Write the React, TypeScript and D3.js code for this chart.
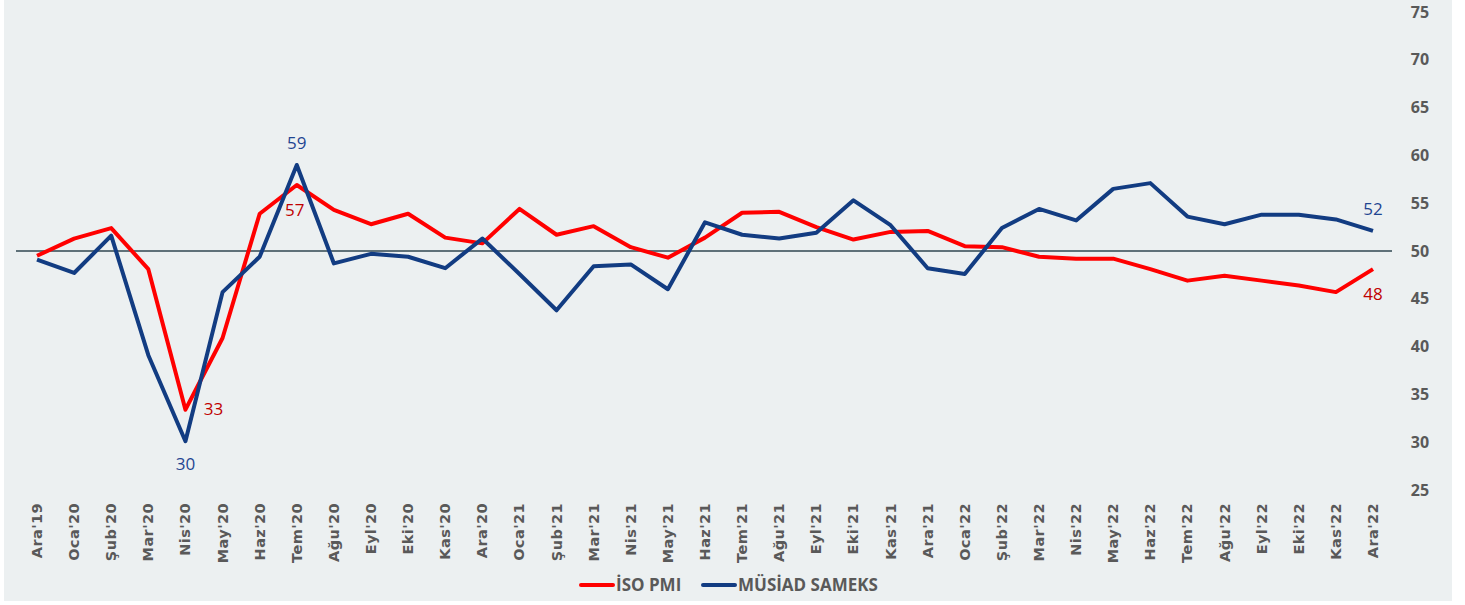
import React from 'react';
import * as d3 from 'd3';

const months = [
  "Ara'19", "Oca'20", "Şub'20", "Mar'20", "Nis'20", "May'20", "Haz'20", "Tem'20", "Ağu'20", "Eyl'20", "Eki'20", "Kas'20",
  "Ara'20", "Oca'21", "Şub'21", "Mar'21", "Nis'21", "May'21", "Haz'21", "Tem'21", "Ağu'21", "Eyl'21", "Eki'21", "Kas'21",
  "Ara'21", "Oca'22", "Şub'22", "Mar'22", "Nis'22", "May'22", "Haz'22", "Tem'22", "Ağu'22", "Eyl'22", "Eki'22", "Kas'22",
  "Ara'22",
];

const isoPmi = [
  49.5, 51.3, 52.4, 48.1, 33.4, 40.9, 53.9, 56.9, 54.3, 52.8, 53.9, 51.4,
  50.8, 54.4, 51.7, 52.6, 50.4, 49.3, 51.4, 54.0, 54.1, 52.5, 51.2, 52.0,
  52.1, 50.5, 50.4, 49.4, 49.2, 49.2, 48.1, 46.9, 47.4, 46.9, 46.4, 45.7,
  48.1,
];

const musiadSameks = [
  49.1, 47.7, 51.6, 39.1, 30.1, 45.7, 49.4, 59.0, 48.7, 49.7, 49.4, 48.2,
  51.3, 47.6, 43.8, 48.4, 48.6, 46.0, 53.0, 51.7, 51.3, 51.9, 55.3, 52.7,
  48.2, 47.6, 52.4, 54.4, 53.2, 56.5, 57.1, 53.6, 52.8, 53.8, 53.8, 53.3,
  52.1,
];

const yTicks = [25, 30, 35, 40, 45, 50, 55, 60, 65, 70, 75];

// labelled points: series, month, text, placement
const labels = [
  { s: 'sameks', m: "Tem'20", text: '59', dx: 0, dy: -22 },
  { s: 'pmi', m: "Tem'20", text: '57', dx: -2, dy: 25 },
  { s: 'sameks', m: "Nis'20", text: '30', dx: 0, dy: 23 },
  { s: 'pmi', m: "Nis'20", text: '33', dx: 28, dy: -1 },
  { s: 'sameks', m: "Ara'22", text: '52', dx: 0, dy: -22 },
  { s: 'pmi', m: "Ara'22", text: '48', dx: 0, dy: 25 },
];

const W = 1465;
const H = 605;
const RED = '#ff0000';
const BLUE = '#123c82';
const GRAY = '#595959';

const App = () => {
  const x = d3.scalePoint<string>().domain(months).range([37, 1373]);
  const y = d3.scaleLinear().domain([25, 75]).range([490, 12]);

  const line = d3
    .line<number>()
    .x((_, i) => x(months[i]) as number)
    .y((d) => y(d));

  const value = (s: string, m: string) => {
    const i = months.indexOf(m);
    return s === 'pmi' ? isoPmi[i] : musiadSameks[i];
  };

  return (
    <svg
      width={W}
      height={H}
      style={{ position: 'absolute', left: 0, top: 0 }}
      fontFamily="'Open Sans', sans-serif"
    >
      <rect x={4} y={0} width={1448} height={601} fill="#ecf0f1" />

      {/* reference line at 50 */}
      <line x1={16} x2={1392} y1={y(50)} y2={y(50)} stroke="#5f7179" strokeWidth={2} />

      {/* y axis on the right */}
      <g>
        {yTicks.map((t) => (
          <text
            key={t}
            x={1420}
            y={y(t)}
            dy="0.35em"
            textAnchor="middle"
            fontSize={16}
            fontWeight="bold"
            fill={GRAY}
          >
            {t}
          </text>
        ))}
      </g>

      {/* x axis labels */}
      <g>
        {months.map((m) => (
          <text
            key={m}
            transform={`translate(${(x(m) as number) + 5},503) rotate(-90)`}
            textAnchor="end"
            fontFamily="'DejaVu Sans', Verdana, sans-serif"
            fontSize={14.5}
            fontWeight="bold"
            letterSpacing={0.4}
            fill={GRAY}
          >
            {m}
          </text>
        ))}
      </g>

      <path d={line(isoPmi) as string} fill="none" stroke={RED} strokeWidth={4} strokeLinejoin="round" />
      <path d={line(musiadSameks) as string} fill="none" stroke={BLUE} strokeWidth={4} strokeLinejoin="round" />

      {labels.map((l, i) => (
        <text
          key={i}
          x={(x(l.m) as number) + l.dx}
          y={y(value(l.s, l.m)) + l.dy}
          dy="0.35em"
          textAnchor="middle"
          fontSize={17}
          fill={l.s === 'pmi' ? '#c00000' : '#1f4591'}
        >
          {l.text}
        </text>
      ))}

      {/* legend */}
      <g fontSize={17} fontWeight="bold" fill={GRAY}>
        <line x1={581} x2={613} y1={585} y2={585} stroke={RED} strokeWidth={4} strokeLinecap="round" />
        <text x={616} y={585} dy="0.35em">İSO PMI</text>
        <line x1={703} x2={735} y1={585} y2={585} stroke={BLUE} strokeWidth={4} strokeLinecap="round" />
        <text x={738} y={585} dy="0.35em">MÜSİAD SAMEKS</text>
      </g>
    </svg>
  );
};

export default App;
